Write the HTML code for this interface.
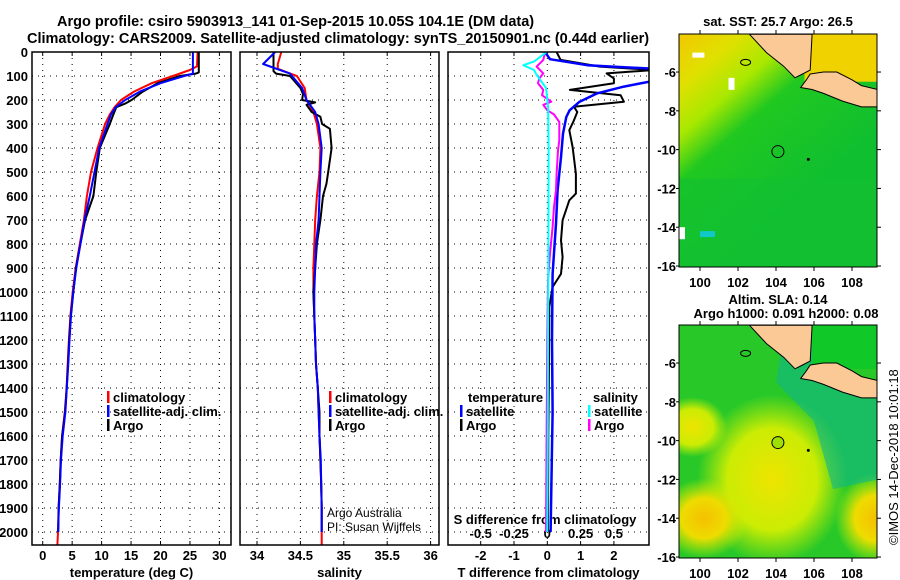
<!DOCTYPE html>
<html><head><meta charset="utf-8"><style>
html,body{margin:0;padding:0;background:#fff;}
svg{display:block;font-family:"Liberation Sans",sans-serif;}
.t{font-weight:bold;font-size:14.5px;}
.lb{font-weight:bold;font-size:13px;}
</style></head><body>
<svg id="fig" width="900" height="580" viewBox="0 0 900 580" xmlns="http://www.w3.org/2000/svg">
<defs>
<linearGradient id="g1" x1="0" y1="0" x2="0.55" y2="0.75">
<stop offset="0" stop-color="#f2c800"/><stop offset="0.2" stop-color="#e0e000"/><stop offset="0.38" stop-color="#a8e800"/><stop offset="0.55" stop-color="#20c820"/><stop offset="1" stop-color="#10bf30"/></linearGradient>
<radialGradient id="rY" cx="0.5" cy="0.5" r="0.5"><stop offset="0" stop-color="#eee400"/><stop offset="0.6" stop-color="#ddf000" stop-opacity="0.9"/><stop offset="1" stop-color="#ccf000" stop-opacity="0"/></radialGradient>
<radialGradient id="rO" cx="0.5" cy="0.5" r="0.5"><stop offset="0" stop-color="#f5c000"/><stop offset="0.5" stop-color="#eedc00"/><stop offset="1" stop-color="#ccf000" stop-opacity="0"/></radialGradient>
</defs>
<text class="t" x="57" y="26">Argo profile: csiro 5903913_141 01-Sep-2015 10.05S 104.1E (DM data)</text>
<text class="t" x="27" y="43">Climatology: CARS2009. Satellite-adjusted climatology: synTS_20150901.nc (0.44d earlier)</text>
<g id="p1"></g>
<g id="p2"></g>
<g id="p3"></g>
<g id="m1"></g>
<g id="m2"></g>
<text x="898" y="545" transform="rotate(-90 898 545)" font-size="13">©IMOS 14-Dec-2018 10:01:18</text>
</svg>
<script>
// ---- data ----
const depthTicks=[0,100,200,300,400,500,600,700,800,900,1000,1100,1200,1300,1400,1500,1600,1700,1800,1900,2000];
const tempTicks=[0,5,10,15,20,25,30];
const salTicks=[34,34.5,35,35.5,36];
const tdiffTicks=[-2,-1,0,1,2];
const sdiffTicks=[-0.5,-0.25,0,0.25,0.5];
const sdiffLabels=["-0.5","-0.25","0","0.25","0.5"];
const lonTicks=[100,102,104,106,108];
const latTicks=[-6,-8,-10,-12,-14,-16];

const argoTDepth=[0,85,90,100,130,165,200,215,230,260,300,400,500,600,700,800,900,1000,1100,1200,1300,1400,1500,1600,1700,1800,1900,2000];
const argoT=[26.5,26.5,26.0,23.3,19.5,17.0,15.1,14.0,12.5,12.0,11.4,9.7,9.1,8.6,7.2,6.4,5.65,5.2,4.75,4.5,4.3,4.07,3.8,3.3,3.05,2.9,2.7,2.65];
const climTDepth=[0,60,75,100,130,165,200,230,260,300,400,500,600,700,800,900,1000,1100,1200,1300,1400,1500,1600,1700,1800,1900,2000,2054];
const climT=[26.3,26.2,25.0,22.1,18.5,15.5,13.3,12.2,11.4,10.6,9.3,8.2,7.5,7.0,6.3,5.6,5.1,4.7,4.45,4.25,4.05,3.75,3.3,3.05,2.9,2.7,2.6,2.5];
const satTDepth=[0,90,100,130,165,200,230,260,300,400,500,600,700,800,900,1000,1100,1200,1300,1400,1500,1600,1700,1800,1900,2000];
const satT=[25.5,25.5,24.0,20.0,16.5,14.0,12.4,11.6,11.0,9.6,8.8,8.0,7.1,6.4,5.7,5.2,4.8,4.55,4.35,4.1,3.85,3.4,3.1,2.95,2.75,2.6];

const argoSDepth=[0,80,90,100,150,175,200,210,220,250,270,300,320,400,500,550,600,700,750,800,900,1000,1100,1200,1300,1400,1500,1600,1700,1800,1900,2000];
const argoS=[34.19,34.19,34.22,34.38,34.5,34.53,34.52,34.67,34.57,34.63,34.73,34.75,34.84,34.86,34.82,34.8,34.76,34.73,34.71,34.69,34.67,34.65,34.66,34.67,34.68,34.7,34.72,34.72,34.73,34.74,34.745,34.745];
const climSDepth=[0,50,70,100,150,200,250,300,400,500,600,700,800,900,1000,1100,1200,1300,1400,1500,1600,1700,1800,1900,2000,2054];
const climS=[34.28,34.24,34.24,34.46,34.55,34.57,34.65,34.69,34.73,34.72,34.69,34.67,34.66,34.65,34.65,34.66,34.67,34.68,34.7,34.71,34.72,34.73,34.74,34.745,34.745,34.745];
const satSDepth=[0,50,90,150,200,250,300,400,500,600,700,800,900,1000,1100,1200,1300,1400,1500,1600,1700,1800,1900,2000];
const satS=[34.21,34.07,34.38,34.52,34.57,34.67,34.71,34.745,34.73,34.72,34.71,34.68,34.67,34.66,34.66,34.67,34.68,34.7,34.71,34.72,34.735,34.74,34.745,34.745];

const argoTdDepth=[0,33,61,75,89,110,130,158,180,207,228,250,285,326,396,507,590,618,701,785,854,924,979,1062,1300,1600,2000];
const argoTd=[0.28,0.4,1.58,3.2,1.78,2.0,2.0,0.68,2.2,2.3,0.8,0.9,0.8,0.66,0.76,0.86,0.86,0.66,0.46,0.41,0.46,0.41,0.16,0.06,0.05,0.03,0.02];
const satTdDepth=[0,30,55,70,80,120,144,172,207,243,271,340,438,576,715,924,1200,1500,2000];
const satTd=[-0.07,0.08,1.2,3.2,3.2,3.2,2.3,1.5,0.97,0.67,0.57,0.47,0.41,0.31,0.26,0.16,0.14,0.16,0.1];
const argoSdDepth=[0,33,61,89,110,130,158,180,207,220,243,260,292,326,368,410,507,576,646,729,840,951,1200,1600,2000];
const argoSd=[-0.017,-0.03,-0.08,-0.03,-0.06,-0.07,-0.03,-0.04,0.03,-0.03,0.0,0.05,0.09,0.09,0.09,0.08,0.07,0.065,0.05,0.04,0.02,0.005,0.0,-0.005,-0.01];
const satSdDepth=[0,40,55,75,95,150,230,400,800,1200,1600,2000];
const satSd=[-0.005,-0.1,-0.18,-0.1,-0.08,-0.01,0.006,0.01,0.008,0.005,0.004,0.0];

// ---- helpers ----
const NS="http://www.w3.org/2000/svg";
function mk(parent,tag,attrs,text){const e=document.createElementNS(NS,tag);for(const k in attrs)e.setAttribute(k,attrs[k]);if(text!==undefined)e.textContent=text;parent.appendChild(e);return e;}
const TOP=52,BOT=545;
const yD=d=>TOP+d*0.24;

function panel(g,x0,x1,xScale,xt,xlabels,title,showY){
  mk(g,'rect',{x:x0,y:TOP,width:x1-x0,height:BOT-TOP,fill:'#fff'});
  depthTicks.forEach(d=>{
    const l=mk(g,'line',{x1:x0,x2:x1,y1:yD(d),y2:yD(d),stroke:'#000','stroke-width':1,'stroke-dasharray':'1 5'});
    
    
    if(showY){const t=mk(g,'text',{x:28,y:yD(d)+5,'text-anchor':'end',class:'lb'},String(d));
      
      }
  });
  xt.forEach((v,i)=>{
    const x=xScale(v);
    const l=mk(g,'line',{x1:x,x2:x,y1:TOP,y2:BOT,stroke:'#000','stroke-width':1,'stroke-dasharray':'1 5'});
    
    
    mk(g,'line',{x1:x,x2:x,y1:TOP,y2:TOP+4,stroke:'#000'});
    mk(g,'line',{x1:x,x2:x,y1:BOT,y2:BOT-4,stroke:'#000'});
    if(xlabels){const t=mk(g,'text',{x:x,y:560,'text-anchor':'middle',class:'lb'},xlabels[i]);
      
      }
  });
  if(title){const t=mk(g,'text',{x:(x0+x1)/2,y:577,'text-anchor':'middle',class:'lb'},title);
    
    }
}
function border(g,x0,x1){mk(g,'rect',{x:x0,y:TOP,width:x1-x0,height:BOT-TOP,fill:'none',stroke:'#000','stroke-width':1.5});}
function line(g,xs,ds,xScale,color,w,name,clip){
  const pts=xs.map((v,i)=>xScale(v).toFixed(1)+','+yD(ds[i]).toFixed(1)).join(' ');
  const p=mk(g,'polyline',{points:pts,fill:'none',stroke:color,'stroke-width':w,'stroke-linejoin':'round'});
  if(clip)p.setAttribute('clip-path',clip);
  
  
}
function legend(g,x,y,color,label,name){
  mk(g,'rect',{x:x,y:y-11,width:2.5,height:12,fill:color});
  const t=mk(g,'text',{x:x+6,y:y,class:'lb'},label);
  
  
}

// ---- panel 1 ----
const p1=document.getElementById('p1');
const xT=v=>42.7+v*5.89;
panel(p1,32,231,xT,tempTicks,tempTicks.map(String),'temperature (deg C)',true);
line(p1,climT,climTDepth,xT,'#f00',2,'climatology-temp-line');
line(p1,argoT,argoTDepth,xT,'#000',2,'argo-temp-line');
line(p1,satT,satTDepth,xT,'#00f',2,'satellite-temp-line');
legend(p1,107,402,'#f00','climatology','legend-climatology');
legend(p1,107,416,'#00f','satellite-adj. clim.','legend-satellite');
legend(p1,107,430,'#000','Argo','legend-argo');
border(p1,32,231);

// ---- panel 2 ----
const p2=document.getElementById('p2');
const xS=v=>257+(v-34)*86.8;
panel(p2,240,439,xS,salTicks,salTicks.map(String),'salinity',false);
line(p2,climS,climSDepth,xS,'#f00',2,'climatology-sal-line');
line(p2,argoS,argoSDepth,xS,'#000',2,'argo-sal-line');
line(p2,satS,satSDepth,xS,'#00f',2,'satellite-sal-line');
legend(p2,329,402,'#f00','climatology','legend-climatology-sal');
legend(p2,329,416,'#00f','satellite-adj. clim.','legend-satellite-sal');
legend(p2,329,430,'#000','Argo','legend-argo-sal');
mk(p2,'text',{x:327,y:517,'font-size':12},'Argo Australia');
mk(p2,'text',{x:327,y:531,'font-size':12},'PI: Susan Wijffels');
border(p2,240,439);

// ---- panel 3 ----
const p3=document.getElementById('p3');
mk(document.querySelector('defs'),'clipPath',{id:'c3'});
mk(document.getElementById('c3'),'rect',{x:448,y:TOP,width:201,height:BOT-TOP});
const xTd=v=>547.3+v*33.3;
const xSd=v=>547.3+v*133.2;
panel(p3,448,649,xTd,tdiffTicks,tdiffTicks.map(String),'T difference from climatology',false);
sdiffTicks.forEach((v,i)=>{const t=mk(p3,'text',{x:xSd(v),y:538,'text-anchor':'middle',class:'lb'},sdiffLabels[i]);
  
  });
mk(p3,'text',{x:545,y:524,'text-anchor':'middle',class:'lb'},'S difference from climatology');
line(p3,argoTd,argoTdDepth,xTd,'#000',2,'argo-tdiff-line','url(#c3)');
line(p3,satTd,satTdDepth,xTd,'#00f',2.5,'satellite-tdiff-line','url(#c3)');
line(p3,argoSd,argoSdDepth,xSd,'#f0f',2,'argo-sdiff-line','url(#c3)');
line(p3,satSd,satSdDepth,xSd,'#0ff',2,'satellite-sdiff-line','url(#c3)');
mk(p3,'text',{x:468,y:402,class:'lb'},'temperature');
legend(p3,460,416,'#00f','satellite','legend-tdiff-satellite');
legend(p3,460,430,'#000','Argo','legend-tdiff-argo');
mk(p3,'text',{x:593,y:402,class:'lb'},'salinity');
legend(p3,588,416,'#0ff','satellite','legend-sdiff-satellite');
legend(p3,588,430,'#f0f','Argo','legend-sdiff-argo');
border(p3,448,649);

// ---- maps ----
const sumatra=[[102.6,-4.05],[103.5,-5.0],[104.4,-5.7],[105.0,-6.3],[105.4,-6.1],[105.8,-5.9],[105.9,-4.05]];
const java=[[105.8,-6.1],[106.5,-6.0],[107.2,-6.0],[108.0,-6.4],[108.5,-6.7],[109.35,-6.9],[109.35,-7.8],[108.5,-7.8],[107.5,-7.5],[106.5,-7.1],[105.9,-6.9],[105.3,-6.8],[105.6,-6.4]];
const floatPos=[104.1,-10.1];
function map(id,top,title1,title2,kind){
  const g=document.getElementById(id);
  const X0=679,X1=877,Y0=top,Y1=top+233;
  const xl=lon=>700+(lon-100)*19;
  const yl=lat=>Y0+(-4.04-lat)*19.4;
  const cid='clip'+id;
  mk(document.querySelector('defs'),'clipPath',{id:cid});
  mk(document.getElementById(cid),'rect',{x:X0,y:Y0,width:X1-X0,height:Y1-Y0});
  const c=mk(g,'g',{'clip-path':'url(#'+cid+')'});
  if(kind==='sst'){
    mk(c,'rect',{x:X0,y:Y0,width:X1-X0,height:Y1-Y0,fill:'url(#g1)'});
    mk(c,'rect',{x:X0,y:yl(-11.5),width:X1-X0,height:Y1-yl(-11.5),fill:'#12c032',opacity:0.6});
    mk(c,'rect',{x:xl(105.5),y:Y0,width:X1-xl(105.5),height:yl(-6.5)-Y0,fill:'#f0d200'});
    mk(c,'rect',{x:xl(100),y:yl(-14.2),width:15,height:6,fill:'#10c8c8'});
    mk(c,'rect',{x:X0,y:yl(-14),width:6,height:12,fill:'#fff'});
    mk(c,'rect',{x:xl(101.5),y:yl(-6.3),width:6,height:12,fill:'#fff'});
    mk(c,'rect',{x:xl(99.6),y:yl(-5.0),width:12,height:5,fill:'#fff'});
  } else {
    mk(c,'rect',{x:X0,y:Y0,width:X1-X0,height:Y1-Y0,fill:'#28c828'});
    mk(c,'ellipse',{cx:xl(103.8),cy:yl(-12),rx:75,ry:85,fill:'url(#rY)'});
    mk(c,'ellipse',{cx:xl(100.2),cy:yl(-14),rx:45,ry:40,fill:'url(#rO)'});
    mk(c,'ellipse',{cx:xl(109.2),cy:yl(-14),rx:40,ry:45,fill:'url(#rO)'});
    mk(c,'ellipse',{cx:xl(99.6),cy:yl(-9.3),rx:35,ry:30,fill:'url(#rY)'});
    mk(c,'polygon',{points:[[104.5,-4],[109.4,-7.5],[109.4,-12],[107,-12.5],[106,-9],[104,-7]].map(p=>xl(p[0])+','+yl(p[1])).join(' '),fill:'#10b888',opacity:0.6});
    mk(c,'rect',{x:xl(105.9),y:Y0,width:X1-xl(105.9),height:yl(-6.3)-Y0,fill:'#10c828'});
  }
  [sumatra,java].forEach((poly,i)=>{
    const p=mk(c,'polygon',{points:poly.map(p=>xl(p[0]).toFixed(1)+','+yl(p[1]).toFixed(1)).join(' '),fill:'#fbc995',stroke:'#000','stroke-width':1});
    
    
  });
  mk(c,'ellipse',{cx:xl(102.4),cy:yl(-5.5),rx:5,ry:3,fill:'none',stroke:'#000'});
  mk(c,'circle',{cx:xl(105.7),cy:yl(-10.5),r:1.5,fill:'#000'});
  const fp=mk(c,'circle',{cx:xl(floatPos[0]),cy:yl(floatPos[1]),r:6,fill:kind==='sst'?'none':'#9ee000',stroke:'#000','stroke-width':1});
  
  
  mk(g,'rect',{x:X0,y:Y0,width:X1-X0,height:Y1-Y0,fill:'none',stroke:'#000'});
  lonTicks.forEach(v=>{
    mk(g,'line',{x1:xl(v),x2:xl(v),y1:Y1,y2:Y1+4,stroke:'#000'});
    mk(g,'line',{x1:xl(v),x2:xl(v),y1:Y0,y2:Y0-4,stroke:'#000'});
    const t=mk(g,'text',{x:xl(v),y:Y1+20,'text-anchor':'middle',class:'lb'},String(v));
    
    
  });
  latTicks.forEach(v=>{
    mk(g,'line',{x1:X1,x2:X1+4,y1:yl(v),y2:yl(v),stroke:'#000'});
    mk(g,'line',{x1:X0,x2:X0-3,y1:yl(v),y2:yl(v),stroke:'#000'});
    const t=mk(g,'text',{x:676,y:yl(v)+5,'text-anchor':'end',class:'lb'},String(v));
    
    
  });
  mk(g,'text',{x:778,y:title2?top-21:top-8,'text-anchor':'middle',class:'lb'},title1);
  if(title2)mk(g,'text',{x:786,y:top-7,'text-anchor':'middle',class:'lb'},title2);
}
map('m1',34,'sat. SST: 25.7 Argo: 26.5',null,'sst');
map('m2',325,'Altim. SLA: 0.14','Argo h1000: 0.091 h2000: 0.08','sla');
</script>
</body></html>
